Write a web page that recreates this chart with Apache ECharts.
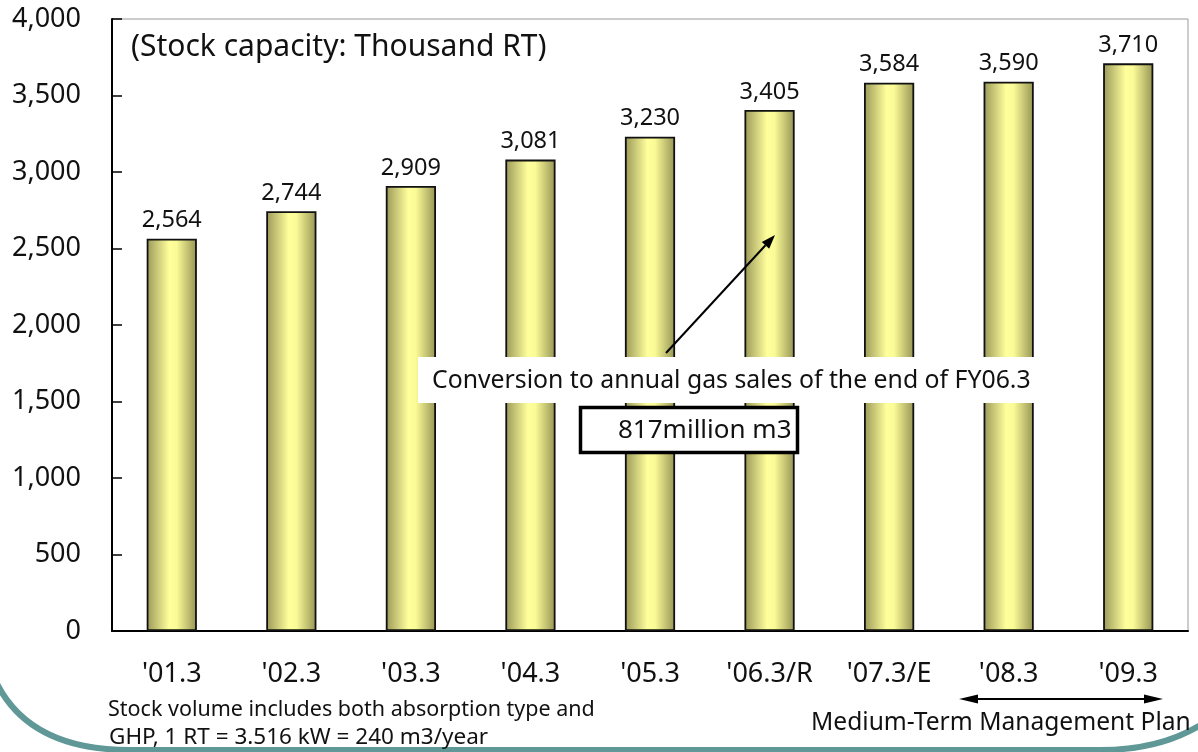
<!DOCTYPE html>
<html><head><meta charset="utf-8">
<script src="https://cdn.jsdelivr.net/npm/echarts@6/dist/echarts.min.js"></script>
<style>html,body{margin:0;padding:0;background:#fff}#c{width:1198px;height:752px}</style>
</head><body><div id="c"></div>
<script>
const categories = ["'01.3", "'02.3", "'03.3", "'04.3", "'05.3", "'06.3/R", "'07.3/E", "'08.3", "'09.3"];
const stockCapacity = [2564, 2744, 2909, 3081, 3230, 3405, 3584, 3590, 3710];
const yTicks = {min: 0, max: 4000, interval: 500};

const FONT = 'Noto Sans';
const fmt = v => String(v).replace(/\B(?=(\d{3})+(?!\d))/g, ',');
const chart = echarts.init(document.getElementById('c'));
const txt = (x, y, text, size, extra) => ({type: 'text', x: x, y: y, z: 11,
  style: Object.assign({text: text, fontSize: size, fontFamily: FONT, fill: '#111', verticalAlign: 'middle'}, extra || {})});
const teal = '#5f9896';
chart.setOption({
  animation: false,
  textStyle: {fontFamily: FONT},
  grid: {left: 112, top: 19, right: 10, bottom: 121, show: true, borderColor: '#999', borderWidth: 1},
  xAxis: {
    type: 'category', data: categories,
    axisLine: {lineStyle: {color: '#000', width: 2}},
    axisTick: {inside: true, length: 8, lineStyle: {color: '#000', width: 1.5}},
    axisLabel: {color: '#111', fontSize: 27, margin: 30, fontFamily: FONT}
  },
  yAxis: {
    type: 'value', min: yTicks.min, max: yTicks.max, interval: yTicks.interval,
    axisLine: {show: true, lineStyle: {color: '#000', width: 2}},
    axisTick: {show: true, inside: true, length: 10, lineStyle: {color: '#000', width: 1.5}},
    splitLine: {show: false},
    axisLabel: {color: '#111', fontSize: 27, margin: 31, formatter: fmt, fontFamily: FONT}
  },
  series: [{
    type: 'bar', data: stockCapacity, barWidth: '42%',
    itemStyle: {
      borderColor: '#111', borderWidth: 1.8,
      color: {type: 'linear', x: 0, y: 0, x2: 1, y2: 0, colorStops: [
        {offset: 0, color: '#9a9858'},
        {offset: 0.45, color: '#ffff9c'},
        {offset: 0.6, color: '#fafa96'},
        {offset: 1, color: '#959354'}
      ]}
    },
    label: {show: true, position: 'top', distance: 6, fontSize: 23.5, color: '#111', formatter: p => fmt(p.value), fontFamily: FONT}
  }],
  graphic: [
    txt(131, 47, '(Stock capacity: Thousand RT)', 30),
    {type: 'line', shape: {x1: 666, y1: 353, x2: 765.5, y2: 245.3}, style: {stroke: '#000', lineWidth: 2}, z: 10},
    {type: 'polygon', shape: {points: [[775, 235], [769.2, 248.7], [761.8, 241.9]]}, style: {fill: '#000'}, z: 10},
    {type: 'rect', shape: {x: 418, y: 357, width: 636, height: 46}, style: {fill: '#fff'}, z: 10},
    txt(432, 381, 'Conversion to annual gas sales of the end of FY06.3', 24.8),
    {type: 'rect', shape: {x: 580.5, y: 407.5, width: 217, height: 45}, style: {fill: '#fff', stroke: '#000', lineWidth: 3.5}, z: 10},
    txt(618, 431, '817million m3', 26),
    txt(108, 710, 'Stock volume includes both absorption type and', 21.5),
    txt(109, 738, 'GHP, 1 RT = 3.516 kW = 240 m3/year', 22.5),
    {type: 'line', shape: {x1: 975, y1: 699, x2: 1147, y2: 699}, style: {stroke: '#000', lineWidth: 2}, z: 10},
    {type: 'polygon', shape: {points: [[959, 699], [978, 694.5], [978, 703.5]]}, style: {fill: '#000'}, z: 10},
    {type: 'polygon', shape: {points: [[1163, 699], [1144, 694.5], [1144, 703.5]]}, style: {fill: '#000'}, z: 10},
    txt(811, 723, 'Medium-Term Management Plan', 24.6),
    {type: 'bezierCurve', shape: {x1: -15, y1: 650, cpx1: 8, cpy1: 750, x2: 130, y2: 750}, style: {stroke: teal, lineWidth: 6, fill: null}, z: 9},
    {type: 'line', shape: {x1: 129, y1: 750, x2: 1101, y2: 750}, style: {stroke: teal, lineWidth: 6}, z: 9},
    {type: 'bezierCurve', shape: {x1: 1100, y1: 750, cpx1: 1170, cpy1: 750, x2: 1215, y2: 715}, style: {stroke: teal, lineWidth: 6, fill: null}, z: 9}
  ]
});
</script></body></html>
